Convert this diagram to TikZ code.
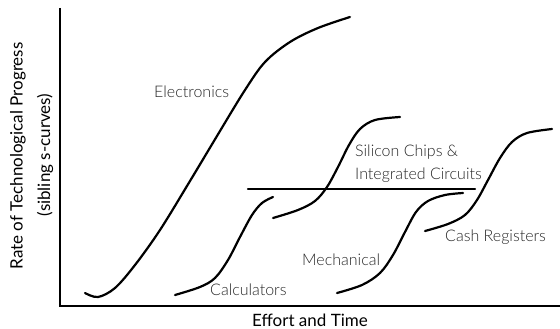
\documentclass[tikz,border=0pt]{standalone}
\usepackage{fontspec}
\setmainfont{Lato}
\newfontfamily\lightfont{Lato Light}
\usepackage{tikz}
\usetikzlibrary{positioning}

\begin{document}
\begin{tikzpicture}[%
    x=1pt,
    y=-1pt,
    axis/.style={%
      line width=1.3pt
    },
    scurve/.style={%
      line width=2.2pt,
      line cap=round,
      smooth,
      tension=0.55
    },
    curvelabel/.style={%
      font=\lightfont\fontsize{16}{23}\selectfont,
      text=black!85,
      inner sep=0pt,
      anchor=west,
      align=left
    },
    axislabel/.style={%
      font=\fontsize{17}{20}\selectfont,
      inner sep=0pt
    }
  ]
    \useasboundingbox (0,0) rectangle (560,329);

    % axes
    \coordinate (top)    at (60,8);
    \coordinate (origin) at (60,306);
    \coordinate (right)  at (560,306);
    \draw[axis] (top) -- (origin) -- (right);

    \node[axislabel, anchor=base] (xlabel) at (310,326) {Effort and Time};
    \node[axislabel, rotate=90] (ylabel1) at (18,156) {Rate of Technological Progress};
    \node[axislabel, rotate=90] (ylabel2) at (45,155) {(sibling s-curves)};

    % the s-curves
    \draw[scurve] plot coordinates {(85,293) (98,297) (115,288) (135,265) (160,230)
      (190,181) (220,131) (245,90) (265,62) (290,42) (318,28) (350,17)};
    \draw[scurve] plot coordinates {(175,295) (200,287) (215,278) (228,260) (240,237)
      (252,215) (262,203) (273,197)};
    \draw[scurve] plot coordinates {(273,218) (298,210) (315,201) (327,187) (338,167)
      (349,145) (360,129) (375,120) (400,117)};
    \draw[scurve] plot coordinates {(337,293) (362,285) (380,273) (393,255) (405,232)
      (416,212) (428,201) (445,195) (463,193)};
    \draw[scurve] plot coordinates {(425,231) (448,224) (465,215) (477,200) (488,180)
      (500,158) (512,142) (527,133) (552,129)};

    % limit line
    \coordinate (limitL) at (248,189);
    \coordinate (limitR) at (475,189);
    \draw[scurve] (limitL) -- (limitR);

    % labels
    \node[curvelabel] (electronics) at (154,92)  {Electronics};
    \node[curvelabel] (calculators) at (210,290) {Calculators};
    \node[curvelabel] (silicon)     at (355,164) {Silicon Chips \&\\Integrated Circuits};
    \node[curvelabel] (mechanical)  at (302,260) {Mechanical};
    \node[curvelabel] (cash)        at (445,237) {Cash Registers};
  \end{tikzpicture}
\end{document}
